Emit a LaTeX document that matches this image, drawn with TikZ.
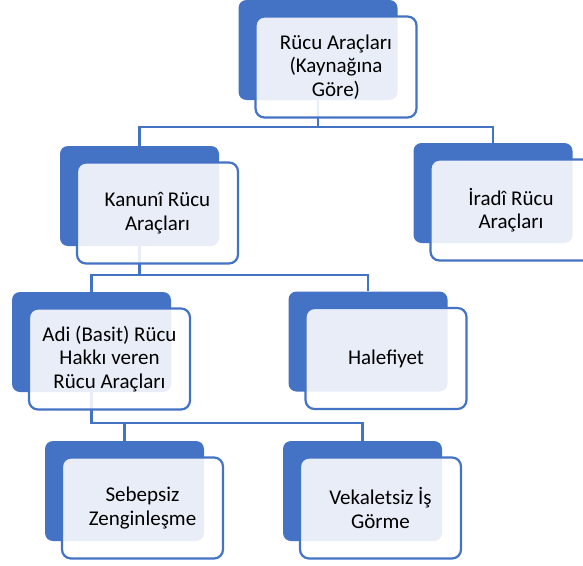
\documentclass[tikz,border=0pt]{standalone}
\usepackage{fontspec}
\setmainfont{Carlito}
\usepackage{xcolor}
\definecolor{sa_blue}{RGB}{68,114,196}

\tikzset{
  backbox/.style={fill=sa_blue, rounded corners=8pt,
                  minimum width=159pt, minimum height=100pt, inner sep=0pt},
  frontbox/.style={draw=sa_blue, line width=2.2pt, fill=white,
                   fill opacity=0.88, text opacity=1, rounded corners=9pt,
                   minimum width=161pt, minimum height=101pt, inner sep=0pt,
                   align=center, font=\fontsize{21}{23.5}\selectfont},
  link/.style={draw=sa_blue, line width=2.2pt}
}

\begin{document}
\begin{tikzpicture}[x=1pt, y=-1pt]
  \useasboundingbox (0,0) rectangle (583,565);
  \clip (0,0) rectangle (583,565);

  % blue back boxes
  \node[backbox] (root-bg)    at (318,50)    {};
  \node[backbox] (kanuni-bg)  at (139.5,196) {};
  \node[backbox] (iradi-bg)   at (493,193)   {};
  \node[backbox] (adi-bg)     at (91.5,342)  {};
  \node[backbox] (halef-bg)   at (368,341.5) {};
  \node[backbox] (sebep-bg)   at (124.5,491) {};
  \node[backbox] (vekalet-bg) at (362.5,491) {};

  % connectors
  \draw[link] (root-bg.south) -- ++(0,27) -| (kanuni-bg.north);
  \draw[link] (root-bg.south) -- ++(0,27) -| (iradi-bg.north);
  \draw[link] (kanuni-bg.south) -- ++(0,28.5) -| (adi-bg.north);
  \draw[link] (kanuni-bg.south) -- ++(0,28.5) -| (halef-bg.north);
  \draw[link] (adi-bg.south) -- ++(0,31) -| (sebep-bg.north);
  \draw[link] (adi-bg.south) -- ++(0,31) -| (vekalet-bg.north);

  % front boxes with text
  \node[frontbox] (root)    at ([shift={(18,17)}]root-bg)    {Rücu Araçları\\(Kaynağına\\Göre)};
  \node[frontbox] (kanuni)  at ([shift={(18,17)}]kanuni-bg)  {Kanunî Rücu\\Araçları};
  \node[frontbox] (iradi)   at ([shift={(18,17)}]iradi-bg)   {İradî Rücu\\Araçları};
  \node[frontbox] (adi)     at ([shift={(18,17)}]adi-bg)     {Adi (Basit) Rücu\\Hakkı veren\\Rücu Araçları};
  \node[frontbox] (halef)   at ([shift={(18,17)}]halef-bg)   {Halefiyet};
  \node[frontbox] (sebep)   at ([shift={(18,17)}]sebep-bg)   {Sebepsiz\\Zenginleşme};
  \node[frontbox] (vekalet) at ([shift={(18,17)}]vekalet-bg) {Vekaletsiz İş\\Görme};
\end{tikzpicture}
\end{document}
